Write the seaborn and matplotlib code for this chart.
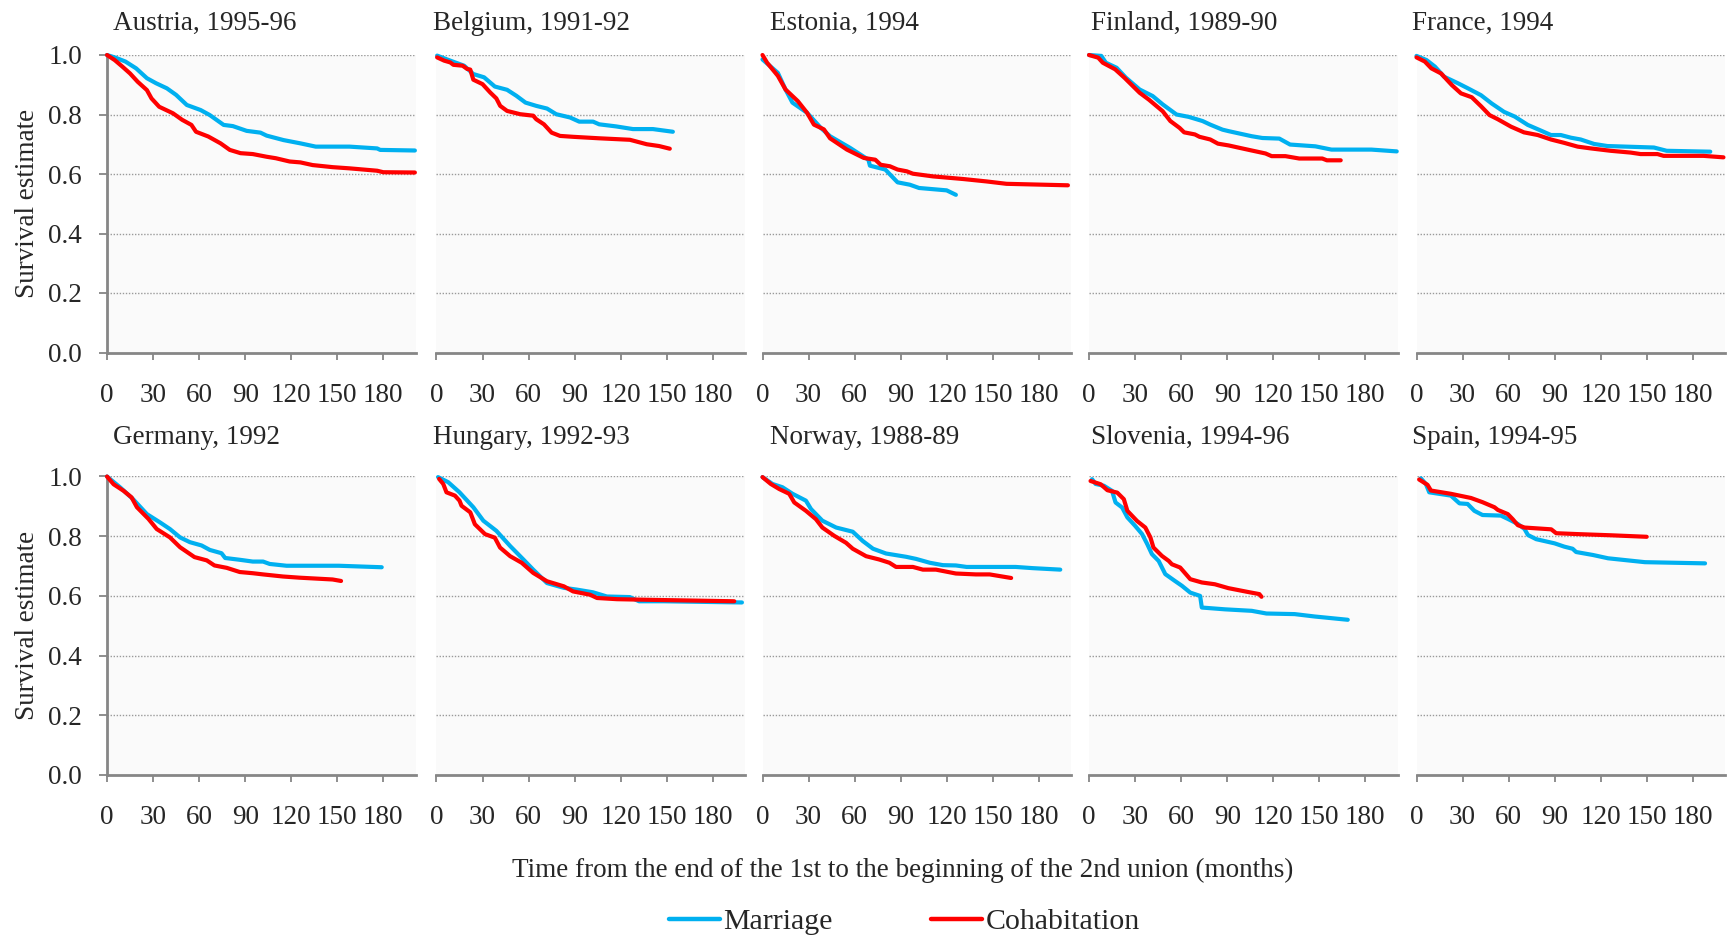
import matplotlib
matplotlib.use("Agg")
import matplotlib.pyplot as plt
from matplotlib.lines import Line2D
import seaborn as sns
import pandas as pd

# ---------------------------------------------------------------------------
# Kaplan-Meier survival estimates: months from end of 1st union to start of
# the 2nd union, by type of the 2nd union (marriage vs. cohabitation).
# ---------------------------------------------------------------------------
countries = ["Austria, 1995-96", "Belgium, 1991-92", "Estonia, 1994",
             "Finland, 1989-90", "France, 1994", "Germany, 1992",
             "Hungary, 1992-93", "Norway, 1988-89", "Slovenia, 1994-96",
             "Spain, 1994-95"]
union_types = ["Marriage", "Cohabitation"]

austria_mar_t = [0, 5, 12, 19, 26, 32, 39, 45, 52, 61, 67, 76, 82, 91, 100, 104, 115, 126, 136, 158, 176, 178, 200.6]
austria_mar_s = [1.0, 0.992, 0.978, 0.955, 0.922, 0.905, 0.888, 0.866, 0.832, 0.815, 0.798, 0.765, 0.761, 0.745, 0.739, 0.729, 0.714, 0.703, 0.692, 0.692, 0.686, 0.681, 0.679]
austria_coh_t = [0, 5, 10, 15, 20, 26, 29, 34, 43, 49, 55, 58, 66, 74, 80, 87, 95, 104, 110, 119, 126, 134, 147, 158, 176, 180, 200.6]
austria_coh_s = [1.0, 0.983, 0.961, 0.938, 0.91, 0.882, 0.854, 0.826, 0.804, 0.782, 0.765, 0.742, 0.726, 0.703, 0.681, 0.67, 0.667, 0.658, 0.653, 0.642, 0.639, 0.63, 0.623, 0.619, 0.611, 0.606, 0.605]

belgium_mar_t = [0.4, 9, 18, 24, 31, 38, 46, 52, 58, 65, 72, 78, 87, 93, 102, 106, 117, 128, 141, 154]
belgium_mar_s = [0.998, 0.981, 0.964, 0.936, 0.925, 0.894, 0.883, 0.863, 0.84, 0.829, 0.82, 0.801, 0.79, 0.776, 0.776, 0.767, 0.76, 0.751, 0.751, 0.742]
belgium_coh_t = [0.4, 5, 9, 11, 17, 20, 22, 24, 30, 35, 39, 41.5, 46, 54.5, 63, 65, 70, 75, 80.5, 89, 106, 126, 137, 145, 152]
belgium_coh_s = [0.992, 0.981, 0.975, 0.967, 0.964, 0.953, 0.951, 0.917, 0.902, 0.874, 0.854, 0.829, 0.812, 0.801, 0.796, 0.784, 0.767, 0.739, 0.728, 0.725, 0.72, 0.715, 0.7, 0.694, 0.685]

estonia_mar_t = [0, 10, 15, 19.5, 29, 38, 44, 57, 69, 70, 80, 88, 96, 102, 120, 126]
estonia_mar_s = [0.985, 0.94, 0.884, 0.84, 0.806, 0.755, 0.727, 0.688, 0.648, 0.628, 0.615, 0.572, 0.564, 0.553, 0.545, 0.53]
estonia_coh_t = [0, 3, 10, 15, 23, 29, 33.5, 40, 44, 55, 66, 73.5, 77, 83, 88, 94, 98, 111, 131, 146, 159, 199]
estonia_coh_s = [1.0, 0.974, 0.93, 0.884, 0.845, 0.806, 0.766, 0.75, 0.72, 0.682, 0.654, 0.648, 0.631, 0.626, 0.615, 0.609, 0.601, 0.592, 0.583, 0.575, 0.567, 0.562]

finland_mar_t = [0, 8, 11, 18, 24, 33, 41.5, 48, 57, 65, 74, 79, 87, 91, 106, 113, 124, 131, 147.5, 158, 184, 200.5]
finland_mar_s = [1.0, 0.997, 0.974, 0.957, 0.924, 0.884, 0.862, 0.834, 0.8, 0.792, 0.778, 0.766, 0.749, 0.744, 0.727, 0.721, 0.719, 0.699, 0.693, 0.682, 0.682, 0.676]
finland_coh_t = [0, 6, 9, 17, 23, 33, 39, 48, 53, 59, 62, 69, 72, 79, 84, 91, 98, 106, 115, 119, 128, 137, 152, 155, 164]
finland_coh_s = [1.0, 0.991, 0.974, 0.952, 0.924, 0.873, 0.85, 0.811, 0.778, 0.755, 0.74, 0.733, 0.725, 0.716, 0.702, 0.696, 0.688, 0.679, 0.669, 0.66, 0.66, 0.652, 0.652, 0.646, 0.646]

france_mar_t = [0, 6.5, 12, 18, 27, 33.5, 42, 49, 57, 64, 72.5, 81, 87.6, 94, 100.6, 107, 115.7, 124.4, 154.7, 163, 191.4]
france_mar_s = [0.997, 0.983, 0.961, 0.927, 0.905, 0.888, 0.865, 0.837, 0.809, 0.793, 0.765, 0.746, 0.731, 0.731, 0.722, 0.716, 0.701, 0.694, 0.689, 0.678, 0.675]
france_coh_t = [0, 5.4, 9.7, 16, 23, 29, 36, 42, 47.6, 53, 61.6, 70, 79, 87.6, 96, 105, 113.6, 126.5, 139.5, 146, 157, 161, 187, 200]
france_coh_s = [0.992, 0.978, 0.955, 0.938, 0.899, 0.871, 0.858, 0.828, 0.798, 0.784, 0.759, 0.74, 0.731, 0.716, 0.705, 0.692, 0.686, 0.678, 0.672, 0.667, 0.667, 0.661, 0.661, 0.656]

germany_mar_t = [0, 8.7, 17, 26, 34.6, 41, 47.6, 54, 61.6, 67, 74.6, 77, 86.5, 95, 101.7, 106, 117, 151, 179]
germany_mar_s = [1.0, 0.963, 0.924, 0.874, 0.846, 0.824, 0.796, 0.78, 0.769, 0.754, 0.743, 0.727, 0.721, 0.715, 0.715, 0.707, 0.701, 0.701, 0.696]
germany_coh_t = [0, 4.3, 10.8, 16, 19.5, 27, 32.4, 41, 47.6, 57, 65, 70, 78, 86.5, 95, 101.7, 114.6, 125.5, 147, 152.5]
germany_coh_s = [1.0, 0.974, 0.952, 0.93, 0.897, 0.858, 0.824, 0.796, 0.763, 0.73, 0.719, 0.702, 0.694, 0.68, 0.676, 0.672, 0.665, 0.661, 0.655, 0.65]

hungary_mar_t = [1, 7.6, 15, 24, 30.5, 39, 48, 56.6, 63, 72, 83, 91.5, 102, 111, 126, 132, 148, 199]
hungary_mar_s = [0.998, 0.981, 0.947, 0.897, 0.852, 0.818, 0.767, 0.722, 0.688, 0.643, 0.627, 0.621, 0.612, 0.598, 0.596, 0.582, 0.582, 0.578]
hungary_coh_t = [1.7, 4.4, 6.5, 12, 15, 16.3, 22, 25, 31.6, 38, 41.4, 48, 55.5, 63, 72, 83, 89, 100, 104.6, 117.6, 137, 194]
hungary_coh_s = [0.992, 0.975, 0.947, 0.936, 0.919, 0.902, 0.88, 0.84, 0.807, 0.795, 0.762, 0.733, 0.711, 0.677, 0.649, 0.632, 0.615, 0.604, 0.593, 0.589, 0.587, 0.582]

norway_mar_t = [0, 6.5, 13, 19.6, 28.3, 31.6, 39, 48, 58.8, 65.3, 72, 80.5, 93.6, 100, 109, 117.5, 126, 133, 165, 176, 194]
norway_mar_s = [0.998, 0.975, 0.964, 0.942, 0.919, 0.891, 0.852, 0.829, 0.815, 0.784, 0.758, 0.742, 0.731, 0.724, 0.711, 0.703, 0.702, 0.697, 0.697, 0.693, 0.688]
norway_coh_t = [0, 5.4, 10.9, 17.4, 20.7, 28.3, 34.8, 39, 46.8, 54.4, 58.8, 67.5, 76, 82.7, 87, 98, 104.5, 113, 126, 139, 148, 162]
norway_coh_s = [0.998, 0.975, 0.958, 0.942, 0.913, 0.885, 0.857, 0.829, 0.801, 0.778, 0.758, 0.733, 0.722, 0.711, 0.697, 0.697, 0.688, 0.688, 0.675, 0.672, 0.672, 0.66]

slovenia_mar_t = [2, 4.3, 9.7, 15, 17.3, 21.6, 25, 30, 34.6, 38, 41, 45.4, 49.7, 56, 60.5, 66, 72.4, 73.5, 88.6, 106, 115.6, 134, 147, 168.6]
slovenia_mar_s = [0.991, 0.975, 0.969, 0.952, 0.913, 0.896, 0.863, 0.835, 0.807, 0.773, 0.74, 0.717, 0.673, 0.65, 0.634, 0.611, 0.6, 0.561, 0.555, 0.55, 0.541, 0.539, 0.531, 0.52]
slovenia_coh_t = [1, 7.6, 12, 18.4, 22.7, 25, 31.3, 36.7, 40, 42, 47.5, 52, 54, 59.4, 66, 73.5, 82, 90.8, 103.7, 111, 112.4]
slovenia_coh_s = [0.985, 0.974, 0.954, 0.946, 0.924, 0.885, 0.851, 0.829, 0.796, 0.762, 0.734, 0.717, 0.706, 0.695, 0.656, 0.645, 0.639, 0.626, 0.613, 0.606, 0.597]

spain_mar_t = [2.8, 6.1, 8.3, 22.4, 28, 33.3, 37.7, 43, 55, 59.5, 66, 70.4, 72.6, 78, 90, 96.3, 101.7, 104, 115, 124.8, 148.8, 188]
spain_mar_s = [0.994, 0.975, 0.947, 0.936, 0.91, 0.908, 0.885, 0.871, 0.869, 0.858, 0.841, 0.824, 0.804, 0.79, 0.776, 0.765, 0.758, 0.747, 0.737, 0.726, 0.713, 0.709]
spain_coh_t = [1.7, 7.2, 9.4, 22.4, 35.5, 43, 50.8, 53, 59.5, 62.7, 66, 70.4, 87.8, 91, 105, 127, 150]
spain_coh_s = [0.99, 0.972, 0.953, 0.942, 0.928, 0.914, 0.897, 0.888, 0.874, 0.857, 0.837, 0.829, 0.823, 0.81, 0.807, 0.803, 0.798]

x_ticks = [0, 30, 60, 90, 120, 150, 180]
y_ticks = [0.0, 0.2, 0.4, 0.6, 0.8, 1.0]

series = [
    (austria_mar_t, austria_mar_s, austria_coh_t, austria_coh_s),
    (belgium_mar_t, belgium_mar_s, belgium_coh_t, belgium_coh_s),
    (estonia_mar_t, estonia_mar_s, estonia_coh_t, estonia_coh_s),
    (finland_mar_t, finland_mar_s, finland_coh_t, finland_coh_s),
    (france_mar_t, france_mar_s, france_coh_t, france_coh_s),
    (germany_mar_t, germany_mar_s, germany_coh_t, germany_coh_s),
    (hungary_mar_t, hungary_mar_s, hungary_coh_t, hungary_coh_s),
    (norway_mar_t, norway_mar_s, norway_coh_t, norway_coh_s),
    (slovenia_mar_t, slovenia_mar_s, slovenia_coh_t, slovenia_coh_s),
    (spain_mar_t, spain_mar_s, spain_coh_t, spain_coh_s),
]

rows = []
for country, (mt, ms, ct, cs) in zip(countries, series):
    for i, (t, s) in enumerate(zip(mt, ms)):
        rows.append((country, "Marriage", i, t, s))
    for i, (t, s) in enumerate(zip(ct, cs)):
        rows.append((country, "Cohabitation", i, t, s))
df = pd.DataFrame(rows, columns=["country", "union", "order", "months", "survival"])

# ---------------------------------------------------------------------------
# Styling
# ---------------------------------------------------------------------------
sns.set_theme(style="white")
plt.rcParams["font.family"] = ["Liberation Serif", "DejaVu Serif"]
plt.rcParams["axes.unicode_minus"] = False

palette = {"Marriage": "#00b0f0", "Cohabitation": "#ff0000"}
spine_color = "#868686"
grid_color = "#9a9a9a"
face_color = "#fafafa"
fs = 19.5

W, H = 1729, 939
fig = plt.figure(figsize=(W / 100, H / 100), dpi=100)

col_left = [107, 436.5, 762.5, 1089, 1416.5]
panel_w = 308.5
row_top = [55, 476.5]
row_bot = [352.5, 775]
title_x = [113, 433, 770.5, 1091, 1411.5]
title_gap = [25, 33]

for k, country in enumerate(countries):
    r, c = divmod(k, 5)
    left = col_left[c]
    top, bot = row_top[r], row_bot[r]
    ax = fig.add_axes([left / W, 1 - bot / H, panel_w / W, (bot - top) / H])
    ax.set_facecolor(face_color)

    sub = df[df["country"] == country]
    sns.lineplot(data=sub, x="months", y="survival", hue="union",
                 hue_order=union_types, palette=palette, estimator=None,
                 sort=False, units="union", legend=False, linewidth=3.0,
                 ax=ax, clip_on=False, zorder=3)
    for ln in ax.lines:
        ln.set_solid_capstyle("round")
        ln.set_solid_joinstyle("round")

    ax.set_xlim(0, 201)
    ax.set_ylim(0, 1.0)
    ax.set_xticks(x_ticks)
    ax.set_yticks(y_ticks)
    ax.set_xlabel("")
    ax.set_ylabel("")

    for y in y_ticks[1:]:
        ax.axhline(y, color=grid_color, lw=1.0, ls=(0, (1, 1.2)), zorder=1)

    for side in ["top", "right"]:
        ax.spines[side].set_visible(False)
    ax.spines["bottom"].set_color(spine_color)
    ax.spines["bottom"].set_linewidth(2.0)
    ax.tick_params(axis="x", direction="out", length=5.2, width=1.3,
                   color=spine_color, pad=16.5, labelsize=fs, bottom=True)
    if c == 0:
        ax.spines["left"].set_color(spine_color)
        ax.spines["left"].set_linewidth(2.0)
        ax.tick_params(axis="y", direction="out", length=5.8, width=1.3,
                       color=spine_color, pad=12.3, labelsize=fs, left=True)
        ax.set_yticklabels([f"{v:.1f}" for v in y_ticks])
    else:
        ax.spines["left"].set_visible(False)
        ax.tick_params(axis="y", left=False, labelleft=False)

    fig.text(title_x[c] / W, 1 - (top - title_gap[r]) / H, country,
             fontsize=fs, ha="left", va="baseline")

# shared axis labels
for r in range(2):
    yc = (row_top[r] + row_bot[r]) / 2
    fig.text(27.5 / W, 1 - yc / H, "Survival estimate", rotation=90,
             ha="center", va="center", fontsize=fs)

fig.text(902.5 / W, 1 - 870 / H,
         "Time from the end of the 1st to the beginning of the 2nd union (months)",
         ha="center", va="center", fontsize=fs)

handles = [Line2D([0], [0], color=palette[u], lw=3.2) for u in union_types]
fig.legend(handles, union_types, loc="center", ncol=2,
           bbox_to_anchor=(904.5 / W, 1 - 922 / H), frameon=False,
           fontsize=21.5, handlelength=1.7, handletextpad=0.12,
           columnspacing=3.3, borderpad=0)

fig.savefig("out.png", dpi=100)
